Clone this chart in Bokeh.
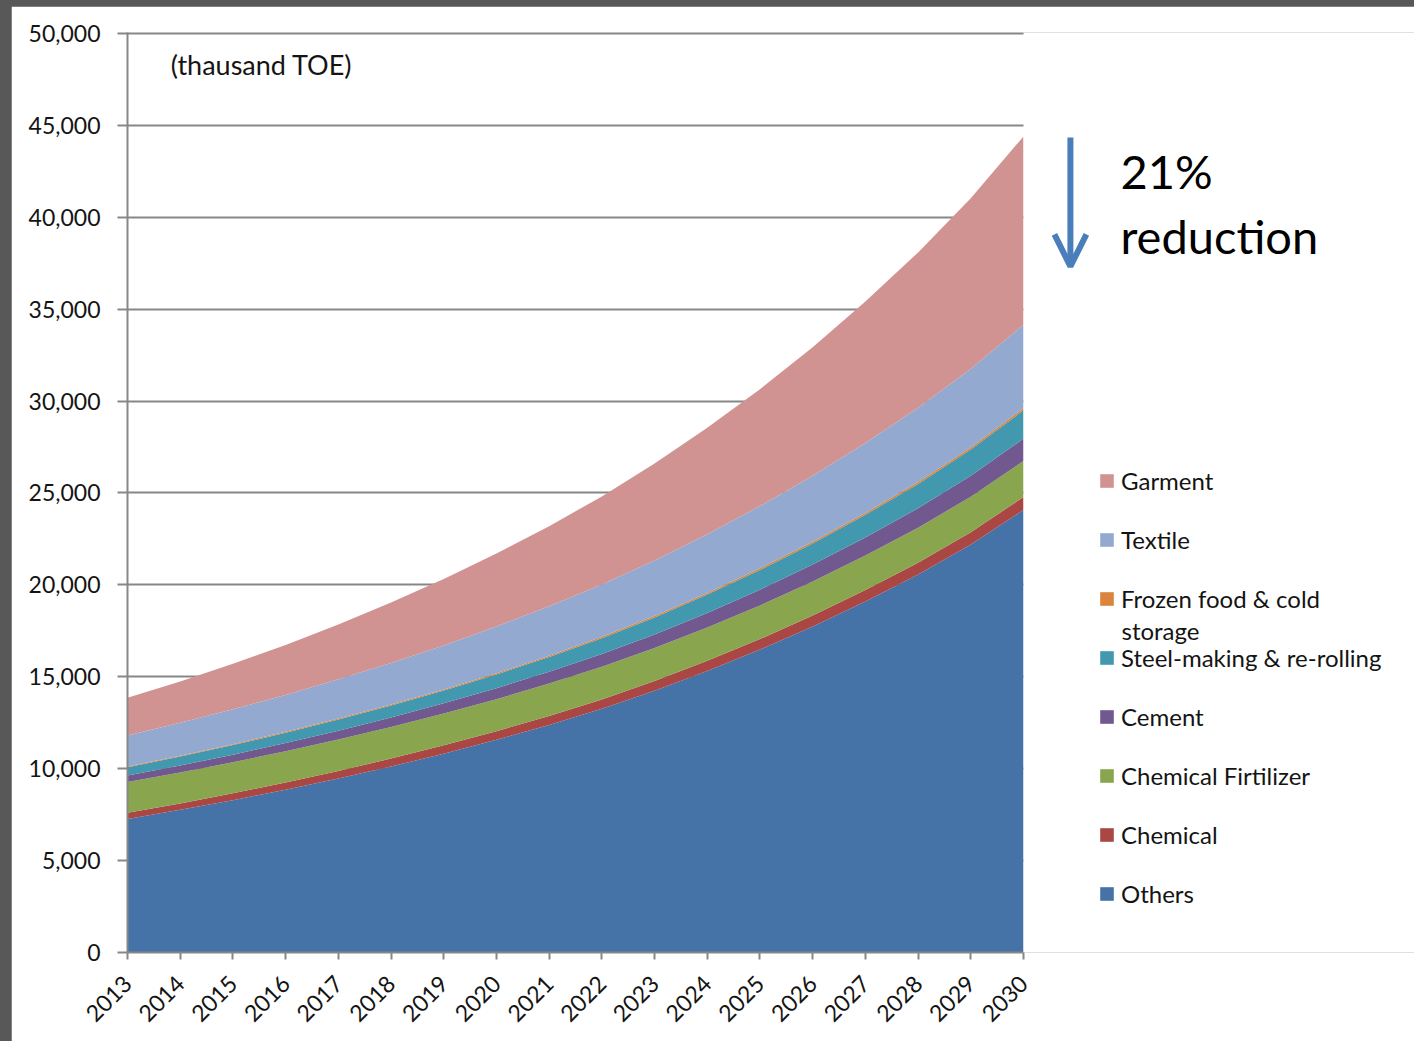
import math

from bokeh.embed import file_html
from bokeh.layouts import column
from bokeh.models import (Arrow, BoxAnnotation, ColumnDataSource, FixedTicker, Label,
                          Legend, LegendItem, NumeralTickFormatter, OpenHead, Range1d)
from bokeh.plotting import figure
from bokeh.resources import INLINE

# Final energy demand by industrial sub-sector (thousand TOE)
years = list(range(2013, 2031))

others = [7270, 7760, 8290, 8860, 9470, 10120, 10820, 11570, 12380, 13260,
          14240, 15320, 16480, 17740, 19100, 20560, 22200, 24080]
chemical = [330, 350, 370, 390, 410, 430, 450, 470, 490, 510,
            530, 550, 570, 595, 620, 645, 670, 700]
fertilizer = [1670, 1680, 1690, 1700, 1710, 1720, 1730, 1745, 1760, 1775,
              1790, 1810, 1830, 1850, 1875, 1900, 1930, 1960]
cement = [360, 385, 415, 445, 480, 515, 555, 595, 640, 690,
          740, 795, 855, 920, 985, 1060, 1135, 1220]
steel = [450, 485, 520, 560, 605, 650, 700, 750, 805, 865,
         930, 1000, 1075, 1150, 1235, 1330, 1430, 1540]
frozen = [40, 45, 45, 50, 55, 55, 60, 65, 70, 75,
          80, 85, 90, 95, 100, 105, 115, 120]
textile = [1690, 1790, 1900, 2010, 2130, 2260, 2390, 2540, 2690, 2850,
           3020, 3200, 3390, 3590, 3810, 4040, 4280, 4530]
garment = [2050, 2250, 2480, 2720, 2990, 3290, 3610, 3970, 4360, 4790,
           5270, 5790, 6360, 6990, 7690, 8450, 9280, 10250]

# bottom-to-top stacking order
keys = ["others", "chemical", "fertilizer", "cement", "steel", "frozen", "textile", "garment"]
labels = ["Others", "Chemical", "Chemical Firtilizer", "Cement",
          "Steel-making & re-rolling", "Frozen food & cold", "Textile", "Garment"]
colors = ["#4572A7", "#AA4643", "#89A54E", "#71588F", "#4198AF", "#DB843D", "#93A9CF", "#D19392"]

source = ColumnDataSource(dict(year=years, others=others, chemical=chemical,
                               fertilizer=fertilizer, cement=cement, steel=steel,
                               frozen=frozen, textile=textile, garment=garment))

FONT = "Lato"
TEXT = "#141414"
AXIS = "#878787"

# the frame runs on past 2030 so the notes and legend on the right share its coordinates
PX_PER_YEAR = 896 / 17
X_END = 2013 + 1287 / PX_PER_YEAR

p = figure(width=1403, height=1035, output_backend="svg", toolbar_location=None,
           x_range=Range1d(2013, X_END), y_range=Range1d(0, 50054),
           min_border_left=116, min_border_right=0, min_border_top=26, min_border_bottom=89)
p.background_fill_color = "white"
p.border_fill_color = "white"
p.outline_line_color = None

renderers = p.varea_stack(keys, x="year", color=colors, source=source)

# axes
p.xaxis.ticker = FixedTicker(ticks=years)
p.xaxis.bounds = (2013, 2030)
p.xaxis.major_label_orientation = math.pi / 4
p.yaxis.ticker = FixedTicker(ticks=list(range(0, 50001, 5000)))
p.yaxis.formatter = NumeralTickFormatter(format="0,0")
for ax in (p.xaxis, p.yaxis):
    ax.axis_line_color = AXIS
    ax.axis_line_width = 2
    ax.major_tick_line_color = AXIS
    ax.major_tick_line_width = 2
    ax.major_tick_in = 0
    ax.minor_tick_line_color = None
    ax.major_label_text_font = FONT
    ax.major_label_text_font_size = "23px"
    ax.major_label_text_color = TEXT
p.yaxis.major_tick_out = 10
p.yaxis.major_label_standoff = 17
p.xaxis.major_tick_out = 7
p.xaxis.major_label_standoff = 20

p.xgrid.visible = False
p.ygrid.ticker = FixedTicker(ticks=list(range(5000, 50001, 5000)))
p.ygrid.grid_line_color = AXIS
p.ygrid.grid_line_width = 2

# blank out the gridlines to the right of the last year
p.add_layout(BoxAnnotation(left=2030, bottom=0, top=50600, fill_color="white",
                           fill_alpha=1, line_color=None))

# legend, top series first
items = [LegendItem(label=lab, renderers=[r]) for lab, r in zip(labels[::-1], renderers[::-1])]
legend = Legend(items=items, location=(971, 44), orientation="vertical",
                background_fill_alpha=0, border_line_color=None, padding=0, margin=0,
                spacing=29, label_height=30, glyph_height=17, glyph_width=17,
                label_standoff=6, label_text_font=FONT, label_text_font_size="24px",
                label_text_color=TEXT)
p.add_layout(legend)
# second line of the frozen-food entry
p.add_layout(Label(x=2013 + (1121 - 127) / PX_PER_YEAR, y=17520, text="storage",
                   text_baseline="middle", text_font=FONT, text_font_size="24px",
                   text_color=TEXT))

# unit note
p.add_layout(Label(x=2013.82, y=48330, text="(thausand TOE)", text_baseline="middle",
                   text_font=FONT, text_font_size="27px", text_color=TEXT))

# reduction arrow and note
arrow_color = "#4A7EBB"
p.add_layout(Arrow(x_start=2030.89, y_start=44340, x_end=2030.89, y_end=37330,
                   line_color=arrow_color, line_width=6,
                   end=OpenHead(size=32, line_color=arrow_color, line_width=6)))
p.add_layout(Label(x=2031.84, y=42500, text="21%", text_baseline="alphabetic",
                   text_font=FONT, text_font_size="47px", text_color="#000000"))
p.add_layout(Label(x=2031.84, y=38970, text="reduction", text_baseline="alphabetic",
                   text_font=FONT, text_font_size="47px", text_color="#000000"))

root = column(p, styles={"background-color": "#585858", "padding-left": "11px",
                         "padding-top": "6px"})

open("out.html", "w").write(file_html(root, INLINE))
